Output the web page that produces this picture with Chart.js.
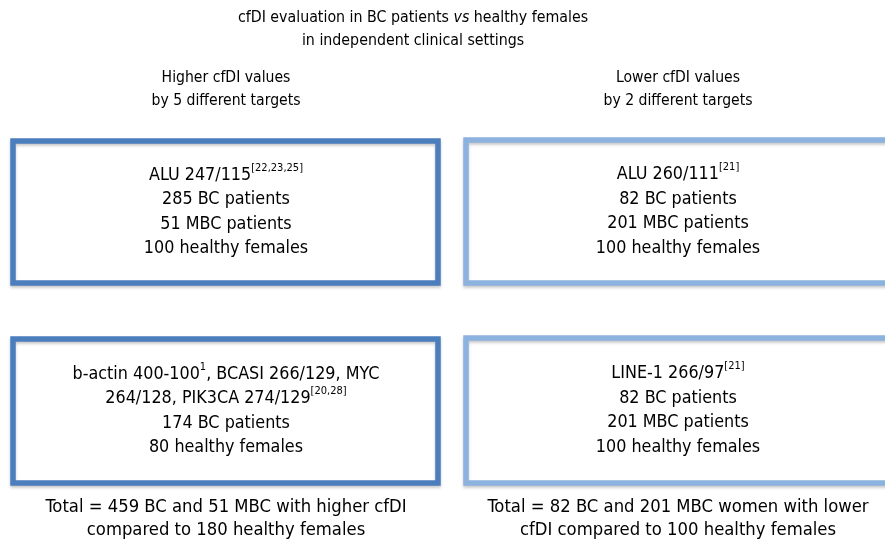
<!DOCTYPE html>
<html>
<head>
<meta charset="utf-8">
<script src="https://cdn.jsdelivr.net/npm/chart.js@4/dist/chart.umd.min.js"></script>
<style>
  html, body { margin: 0; padding: 0; background: #fff; }
  #wrap { width: 885px; height: 542px; }
</style>
</head>
<body>
<div id="wrap"><canvas id="myChart"></canvas></div>
<script>
// text segments: [text, style] where style is "n" normal, "i" italic, "sup" superscript
const titleLines = [
  [["cfDI evaluation in BC patients ", "n"], ["vs", "i"], [" healthy females", "n"]],
  [["in independent clinical settings", "n"]],
];

const columnHeaders = [
  ["Higher cfDI values", "by 5 different targets"],
  ["Lower cfDI values", "by 2 different targets"],
];

// boxes (drawn in the same units as the hidden axes)
const boxLeft = [13, 466, 13, 466];
const boxRight = [438, 900, 438, 900];
const boxTop = [141, 140, 339, 338];
const boxBottom = [283, 283, 483, 483];
const boxColumn = [0, 1, 0, 1];

const boxTexts = [
  [
    [["ALU 247/115", "n"], ["[22,23,25]", "sup"]],
    [["285 BC patients", "n"]],
    [["51 MBC patients", "n"]],
    [["100 healthy females", "n"]],
  ],
  [
    [["ALU 260/111", "n"], ["[21]", "sup"]],
    [["82 BC patients", "n"]],
    [["201 MBC patients", "n"]],
    [["100 healthy females", "n"]],
  ],
  [
    [["b-actin 400-100", "n"], ["1", "sup"], [", BCASI 266/129, MYC", "n"]],
    [["264/128, PIK3CA 274/129", "n"], ["[20,28]", "sup"]],
    [["174 BC patients", "n"]],
    [["80 healthy females", "n"]],
  ],
  [
    [["LINE-1 266/97", "n"], ["[21]", "sup"]],
    [["82 BC patients", "n"]],
    [["201 MBC patients", "n"]],
    [["100 healthy females", "n"]],
  ],
];

const totals = [
  ["Total = 459 BC and 51 MBC with higher cfDI", "compared to 180 healthy females"],
  ["Total = 82 BC and 201 MBC women with lower", "cfDI compared to 100 healthy females"],
];

const columnCenter = [226, 678];
const titleCenter = 413;

const boxColors = ["#4a7ebd", "#8cb3e0"];
const FAMILY = '"DejaVu Sans Condensed", "DejaVu Sans", sans-serif';

const boxDatasets = boxLeft.map((left, i) => ({
  label: "box " + (i + 1),
  data: [
    { x: left, y: boxTop[i] },
    { x: boxRight[i], y: boxTop[i] },
    { x: boxRight[i], y: boxBottom[i] },
    { x: left, y: boxBottom[i] },
    { x: left, y: boxTop[i] },
  ],
  showLine: true,
  fill: false,
  tension: 0,
  pointRadius: 0,
  borderWidth: 5.5,
  borderColor: boxColors[boxColumn[i]],
  borderJoinStyle: "miter",
  borderCapStyle: "square",
  clip: false,
}));

const fontFor = (style, size) => {
  if (style === "sup") return `${Math.round(size * 0.6)}px ${FAMILY}`;
  if (style === "i") return `italic ${size}px ${FAMILY}`;
  return `${size}px ${FAMILY}`;
};

const drawSegments = (ctx, segments, cx, cy, size) => {
  let total = 0;
  segments.forEach(([text, style]) => {
    ctx.font = fontFor(style, size);
    total += ctx.measureText(text).width;
  });
  let x = cx - total / 2;
  segments.forEach(([text, style]) => {
    ctx.font = fontFor(style, size);
    const y = style === "sup" ? cy - size * 0.4 : cy;
    ctx.fillText(text, x, y);
    x += ctx.measureText(text).width;
  });
};

const boxShadow = {
  id: "boxShadow",
  beforeDatasetDraw(chart) {
    const ctx = chart.ctx;
    ctx.save();
    ctx.shadowColor = "rgba(0,0,0,0.22)";
    ctx.shadowBlur = 3;
    ctx.shadowOffsetY = 2;
  },
  afterDatasetDraw(chart) {
    chart.ctx.restore();
  },
};

const diagramText = {
  id: "diagramText",
  afterDraw(chart) {
    const ctx = chart.ctx;
    const sx = chart.scales.x;
    const sy = chart.scales.y;
    ctx.save();
    ctx.fillStyle = "#000";
    ctx.textAlign = "left";
    ctx.textBaseline = "middle";

    titleLines.forEach((line, i) => {
      drawSegments(ctx, line, sx.getPixelForValue(titleCenter), sy.getPixelForValue(18 + i * 23), 15.8);
    });

    columnHeaders.forEach((lines, c) => {
      lines.forEach((text, i) => {
        drawSegments(ctx, [[text, "n"]], sx.getPixelForValue(columnCenter[c]), sy.getPixelForValue(78 + i * 23), 15.6);
      });
    });

    boxTexts.forEach((lines, b) => {
      const mid = (boxTop[b] + boxBottom[b]) / 2;
      const step = 24.5;
      const first = mid - (step * (lines.length - 1)) / 2;
      lines.forEach((line, i) => {
        drawSegments(ctx, line, sx.getPixelForValue(columnCenter[boxColumn[b]]), sy.getPixelForValue(first + i * step), 17.8);
      });
    });

    totals.forEach((lines, c) => {
      lines.forEach((text, i) => {
        drawSegments(ctx, [[text, "n"]], sx.getPixelForValue(columnCenter[c]), sy.getPixelForValue(507 + i * 23.5), 18.3);
      });
    });
    ctx.restore();
  },
};

const ctx = document.querySelector("#myChart");
const myChart = new Chart(ctx, {
  type: "scatter",
  data: { datasets: boxDatasets },
  options: {
    responsive: true,
    maintainAspectRatio: false,
    animation: false,
    layout: { padding: 0 },
    plugins: {
      legend: { display: false },
      tooltip: { enabled: false },
    },
    scales: {
      x: { type: "linear", min: 0, max: 885, display: false },
      y: { type: "linear", min: 0, max: 542, reverse: true, display: false },
    },
  },
  plugins: [boxShadow, diagramText],
});
</script>
</body>
</html>
